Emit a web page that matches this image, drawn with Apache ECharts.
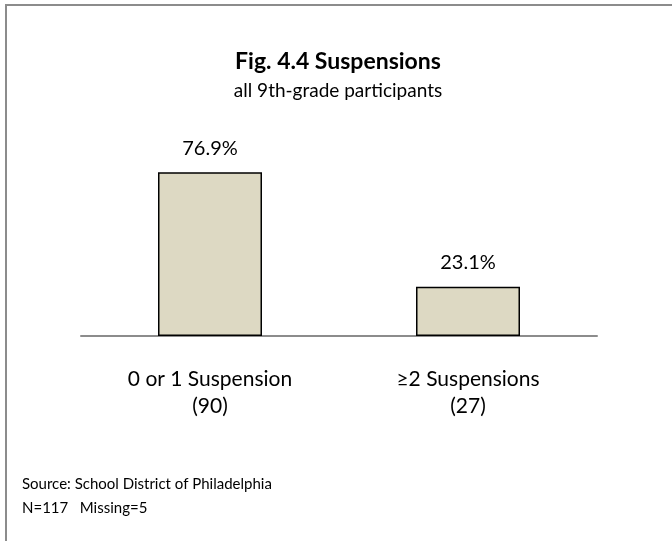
<!DOCTYPE html>
<html><head><meta charset="utf-8">
<script src="https://cdn.jsdelivr.net/npm/echarts@6/dist/echarts.min.js"></script>
<style>html,body{margin:0;padding:0;background:#fff}#c{width:672px;height:541px}</style>
</head><body><div id="c"></div>
<script>
const categories = ['0 or 1 Suspension\n(90)', '≥2 Suspensions\n(27)'];
const percentValues = [76.9, 23.1];
const titleText = 'Fig. 4.4 Suspensions';
const subtitleText = 'all 9th-grade participants';
const sourceLines = ['Source: School District of Philadelphia', 'N=117   Missing=5'];

const chart = echarts.init(document.getElementById('c'));
const F = 'Lato, "Open Sans", sans-serif';
chart.setOption({
  animation: false,
  graphic: [
    {type: 'rect', shape: {x: 6, y: 5, width: 700, height: 600}, style: {fill: 'none', stroke: '#8c8c8c', lineWidth: 2}},
    {type: 'text', x: 338, y: 62, style: {text: titleText, font: 'bold 23px ' + F, fill: '#000', align: 'center', verticalAlign: 'middle'}},
    {type: 'text', x: 338, y: 91, style: {text: subtitleText, font: '19px ' + F, fill: '#000', align: 'center', verticalAlign: 'middle'}},
    {type: 'text', x: 22, y: 472, style: {text: sourceLines.join('\n'), font: '15px ' + F, lineHeight: 24, fill: '#000'}}
  ],
  grid: {left: 81, right: 75, top: 123, bottom: 205},
  xAxis: {
    type: 'category', data: categories,
    axisLine: {lineStyle: {color: '#8c8c8c', width: 2}},
    axisTick: {show: false},
    axisLabel: {fontFamily: F, fontSize: 21, color: '#000', lineHeight: 27, margin: 30, interval: 0}
  },
  yAxis: {type: 'value', min: 0, max: 100, show: false, splitLine: {show: false}},
  series: [{
    type: 'bar', data: percentValues, barWidth: 104,
    itemStyle: {color: '#ddd9c3', borderColor: '#000', borderWidth: 1.5},
    label: {show: true, position: 'top', distance: 14, formatter: p => p.value.toFixed(1) + '%', fontFamily: F, fontSize: 20, color: '#000'}
  }]
});
</script></body></html>
